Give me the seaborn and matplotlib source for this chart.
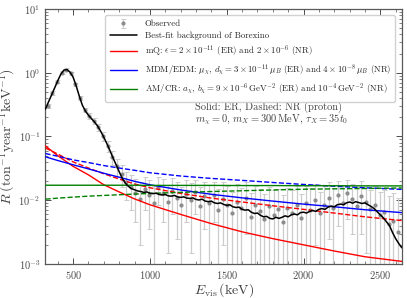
import numpy as np
import pandas as pd
import matplotlib
matplotlib.use('Agg')
import matplotlib.pyplot as plt
import seaborn as sns

# best-fit background of Borexino (keV, ton^-1 year^-1 keV^-1)
bkg_E = [320, 340, 360, 380, 400, 420, 440, 460, 480, 500, 520, 540, 560, 580, 600, 620, 640, 660, 680, 700,
         720, 740, 760, 780, 800, 820, 840, 860, 880, 900, 920, 940, 960, 980, 1000, 1020, 1040, 1060, 1080, 1100,
         1120, 1140, 1160, 1180, 1200, 1220, 1240, 1260, 1280, 1300, 1320, 1340, 1360, 1380, 1400, 1420, 1440, 1460,
         1480, 1500, 1520, 1540, 1560, 1580, 1600, 1620, 1640, 1660, 1680, 1700, 1720, 1740, 1760, 1780, 1800, 1820,
         1840, 1860, 1880, 1900, 1920, 1940, 1960, 1980, 2000, 2020, 2040, 2060, 2080, 2100, 2120, 2140, 2160, 2180,
         2200, 2220, 2240, 2260, 2280, 2300, 2320, 2340, 2360, 2380, 2400, 2420, 2440, 2460, 2480, 2500, 2520, 2540,
         2560, 2580, 2600, 2620, 2640]
bkg_R = [0.27, 0.35, 0.45, 0.58, 0.75, 0.95, 1.10, 1.12, 1.02, 0.85, 0.62, 0.43, 0.31, 0.25, 0.215, 0.19, 0.168, 0.145, 0.12, 0.097,
         0.077, 0.060, 0.046, 0.036, 0.028, 0.022, 0.0185, 0.0165, 0.0152, 0.0146, 0.0140, 0.0137, 0.0133, 0.0135, 0.0129, 0.0127, 0.0129, 0.0123, 0.0121, 0.0123,
         0.0117, 0.0116, 0.0119, 0.0113, 0.0111, 0.0113, 0.0108, 0.0107, 0.0109, 0.0103, 0.0101, 0.0104, 0.0097, 0.0095, 0.0097, 0.0091, 0.0089, 0.0091,
         0.0086, 0.0083, 0.0085, 0.0079, 0.0077, 0.0078, 0.0072, 0.0070, 0.0071, 0.0065, 0.0062, 0.0063, 0.0058, 0.0055, 0.0056, 0.0052, 0.0051, 0.0054,
         0.0052, 0.0054, 0.0057, 0.0055, 0.0059, 0.0061, 0.0059, 0.0064, 0.0065, 0.0063, 0.0067, 0.0069, 0.0067, 0.0072, 0.0074, 0.0072, 0.0078, 0.0081,
         0.0079, 0.0085, 0.0087, 0.0085, 0.0091, 0.0094, 0.0090, 0.0095, 0.0092, 0.0089, 0.0091, 0.0085, 0.0080, 0.0074, 0.0066, 0.0059, 0.0053, 0.0046,
         0.0040, 0.0031, 0.0025, 0.0021, 0.0018]

# observed spectrum
obs_E = [335, 365, 395, 425, 455, 485, 515, 545, 575, 605, 635, 665, 695, 725, 755, 785, 815, 845, 875, 905,
         935, 965, 995, 1025, 1055, 1085, 1115, 1145, 1175, 1205, 1235, 1265, 1295, 1325, 1355, 1385, 1415, 1445, 1475,
         1505, 1535, 1565, 1595, 1625, 1655, 1685, 1715, 1745, 1775, 1805, 1835, 1865, 1895, 1925, 1955, 1985, 2015,
         2045, 2075, 2105, 2135, 2165, 2195, 2225, 2255, 2285, 2315, 2345, 2375, 2405, 2435, 2465, 2495, 2525, 2555,
         2585, 2615]
obs_R = [0.30, 0.48, 0.72, 1.00, 1.12, 0.98, 0.66, 0.40, 0.26, 0.21, 0.175, 0.14, 0.10, 0.072, 0.048, 0.034, 0.026, 0.019, 0.016, 0.013,
         0.0105, 0.0150, 0.0120, 0.0090, 0.0160, 0.0130, 0.0095, 0.0140, 0.0110, 0.0085, 0.0125, 0.0100, 0.0135, 0.0080, 0.0115, 0.0090, 0.0120, 0.0070, 0.0105,
         0.0085, 0.0062, 0.0095, 0.0075, 0.0110, 0.0055, 0.0085, 0.0068, 0.0050, 0.0080, 0.0058, 0.0072, 0.0045, 0.0075, 0.0062, 0.0085, 0.0052, 0.0090,
         0.0070, 0.0100, 0.0062, 0.0085, 0.0110, 0.0075, 0.0120, 0.0090, 0.0130, 0.0105, 0.0080, 0.0115, 0.0095, 0.0072, 0.0085, 0.0058, 0.0065, 0.0042,
         0.0048, 0.0032]
obs_err = [0.02, 0.03, 0.04, 0.05, 0.06, 0.05, 0.04, 0.03, 0.02, 0.02, 0.02, 0.018, 0.016, 0.014, 0.012, 0.011, 0.010, 0.009, 0.009, 0.0085,
           0.0085, 0.0080, 0.0085, 0.0080, 0.0075, 0.0085, 0.0080, 0.0080, 0.0085, 0.0075, 0.0080, 0.0085, 0.0075, 0.0080, 0.0080, 0.0085, 0.0075, 0.0080, 0.0085,
           0.0080, 0.0075, 0.0085, 0.0080, 0.0080, 0.0075, 0.0085, 0.0080, 0.0075, 0.0080, 0.0085, 0.0080, 0.0075, 0.0080, 0.0085, 0.0080, 0.0075, 0.0080,
           0.0085, 0.0080, 0.0075, 0.0080, 0.0085, 0.0080, 0.0080, 0.0085, 0.0080, 0.0075, 0.0080, 0.0085, 0.0080, 0.0075, 0.0080, 0.0075, 0.0080, 0.0075,
           0.0080, 0.0075]

# signal curves
sig_E = [320, 400, 500, 600, 700, 800, 900, 1000, 1200, 1400, 1600, 1800, 2000, 2200, 2400, 2640]
mq_er = [0.071, 0.050, 0.034, 0.025, 0.0175, 0.0135, 0.0105, 0.0085, 0.0060, 0.0043, 0.0032, 0.0025, 0.0020, 0.0016, 0.0013, 0.0011]
mq_nr = [0.066, 0.053, 0.040, 0.032, 0.026, 0.0215, 0.018, 0.0157, 0.0128, 0.0108, 0.0094, 0.0082, 0.0072, 0.0063, 0.0055, 0.0048]
mdm_er = [0.048, 0.042, 0.036, 0.031, 0.0265, 0.023, 0.0198, 0.0175, 0.0145, 0.0124, 0.0109, 0.0097, 0.0087, 0.0079, 0.0071, 0.0064]
mdm_nr = [0.054, 0.049, 0.043, 0.039, 0.035, 0.032, 0.0295, 0.027, 0.024, 0.022, 0.0205, 0.019, 0.0177, 0.0166, 0.0157, 0.0148]
am_er = [0.0172, 0.0172, 0.0172, 0.0172, 0.0172, 0.0172, 0.0172, 0.0171, 0.0171, 0.0171, 0.0170, 0.0170, 0.0169, 0.0169, 0.0168, 0.0168]
am_nr = [0.0104, 0.0108, 0.0112, 0.0116, 0.0119, 0.0122, 0.0125, 0.0128, 0.0133, 0.0137, 0.0141, 0.0145, 0.0149, 0.0151, 0.0153, 0.0156]

sns.set_theme(style='ticks')
plt.rcParams['font.family'] = ['cmr10', 'DejaVu Serif']
plt.rcParams['mathtext.fontset'] = 'cm'
plt.rcParams['axes.formatter.use_mathtext'] = True

fig, ax = plt.subplots(figsize=(4.07, 2.98), dpi=100)
fig.subplots_adjust(left=0.111, right=0.988, bottom=0.114, top=0.970)

ax.errorbar(obs_E, obs_R, yerr=obs_err, fmt='o', ms=2.0, color='#8c8c8c', ecolor='#cccccc',
            elinewidth=0.9, capsize=1.8, capthick=0.7, label='Observed', zorder=2)
sns.lineplot(x=bkg_E, y=bkg_R, color='black', lw=1.1, ax=ax, label='Best-fit background of Borexino', zorder=4)

lw = 1.0
sns.lineplot(x=sig_E, y=mq_er, color='red', lw=lw, ax=ax,
             label=r'mQ: $\epsilon=2\times10^{-11}$ (ER) and $2\times10^{-6}$ (NR)', zorder=3)
sns.lineplot(x=sig_E, y=mq_nr, color='red', lw=lw, ls='--', ax=ax, zorder=3)
sns.lineplot(x=sig_E, y=mdm_er, color='blue', lw=lw, ax=ax,
             label=r'MDM/EDM: $\mu_\chi$, $d_\chi=3\times10^{-11}\,\mu_B$ (ER) and $4\times10^{-8}\,\mu_B$ (NR)', zorder=3)
sns.lineplot(x=sig_E, y=mdm_nr, color='blue', lw=lw, ls='--', ax=ax, zorder=3)
sns.lineplot(x=sig_E, y=am_er, color='green', lw=lw, ax=ax,
             label=r'AM/CR: $a_\chi$, $b_\chi=9\times10^{-6}\,\mathrm{GeV}^{-2}$ (ER) and $10^{-4}\,\mathrm{GeV}^{-2}$ (NR)', zorder=3)
sns.lineplot(x=sig_E, y=am_nr, color='green', lw=lw, ls='--', ax=ax, zorder=3)

ax.set_yscale('log')
ax.set_xlim(318, 2642)
ax.set_ylim(1e-3, 10)
ax.minorticks_on()
ax.xaxis.set_minor_locator(matplotlib.ticker.MultipleLocator(100))
ax.tick_params(which='both', direction='in', top=True, right=True, colors='0.3', labelsize=7.5)
ax.tick_params(which='major', length=4, width=0.7)
ax.tick_params(which='minor', length=2, width=0.5)
for s in ax.spines.values():
    s.set_color('0.35')
    s.set_linewidth(0.9)

ax.set_xlabel(r'$E_{\rm vis}\,(\mathrm{keV})$', fontsize=10, color='0.25', labelpad=0)
ax.set_ylabel(r'$R\;(\mathrm{ton}^{-1}\mathrm{year}^{-1}\mathrm{keV}^{-1})$', fontsize=10, color='0.25', labelpad=1)

# put "Observed" first in the legend
handles, labels = ax.get_legend_handles_labels()
order = [labels.index('Observed')] + [i for i, l in enumerate(labels) if l != 'Observed']
ax.legend([handles[i] for i in order], [labels[i] for i in order],
          loc='upper right', bbox_to_anchor=(0.993, 0.992), fontsize=6.4, frameon=True, framealpha=0.9,
          edgecolor='0.8', handlelength=3.0, labelspacing=0.42, borderpad=0.5, handletextpad=0.9)

ax.text(0.42, 0.615, 'Solid: ER, Dashed: NR (proton)', transform=ax.transAxes, fontsize=7.5,
        color='0.25', va='center')
ax.text(0.42, 0.565, r'$m_\chi=0$, $m_X=300\,\mathrm{MeV}$, $\tau_X=35t_0$', transform=ax.transAxes,
        fontsize=7.5, color='0.25', va='center')

fig.savefig('out.png', dpi=100)
